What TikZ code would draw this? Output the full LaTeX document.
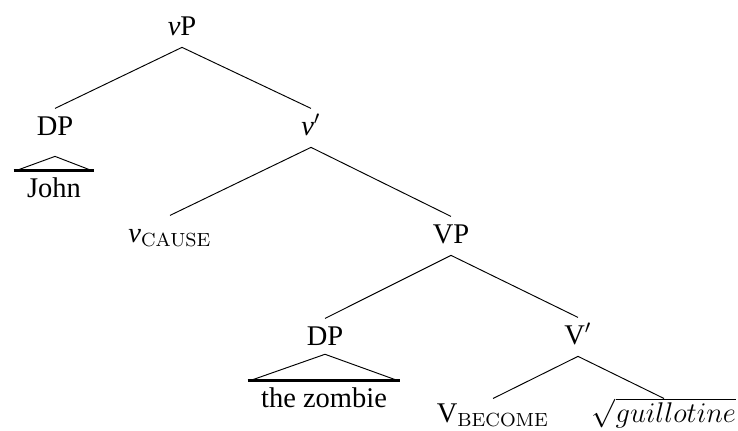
\documentclass[tikz,border=0pt]{standalone}
\usepackage[no-math]{fontspec}
\setmainfont{Liberation Serif}
\usepackage{amsmath}
\usetikzlibrary{positioning}
\tikzset{font={\fontsize{12pt}{14}\selectfont}}
\tikzset{lbl/.style={inner sep=0pt,anchor=base,text height=11pt,text depth=5pt}}
\tikzset{roof/.style={line width=1.1pt}}

\begin{document}
\begin{tikzpicture}[x=0.421pt,y=-0.421pt]
\useasboundingbox (0,0) rectangle (738,430);

%labels
\node[lbl] at (182,35) (vp) {\textit{v}P};
\node[lbl] at (55,135) (dpa) {DP};
\node[lbl] at (311,135) (vbar) {\textit{v}$'$};
\node[lbl] at (54,197) (john) {John};
\node[lbl] at (170,242) (vcause) {\textit{v}$_{\mathrm{CAUSE}}$};
\node[lbl] at (451,243) (vpb) {VP};
\node[lbl] at (325,345) (dpb) {DP};
\node[lbl] at (324,407) (zombie) {the zombie};
\node[lbl] at (578,344) (vbarb) {V$'$};
\node[lbl] at (493,422) (vbecome) {V$_{\mathrm{BECOME}}$};
\node[lbl] at (664,422) (root) {$\sqrt{guillotine}$};

%branches
\draw (vp.south) -- (dpa.north);
\draw (vp.south) -- (vbar.north);
\draw (vbar.south) -- (vcause.north);
\draw (vbar.south) -- (vpb.north);
\draw (vpb.south) -- (dpb.north);
\draw (vpb.south) -- (vbarb.north);
\draw (vbarb.south) -- ([yshift=-1.3pt]vbecome.north);
\draw (vbarb.south) -- ([yshift=-1.3pt]root.north);

%roofs
\draw ([xshift=-4.2pt]john.north west) -- ([yshift=-3.8pt]dpa.south) -- ([xshift=4.2pt]john.north east);
\draw[roof] ([xshift=-5.5pt]john.north west) -- ([xshift=5.5pt]john.north east);
\draw ([xshift=-4.2pt]zombie.north west) -- ([yshift=1.3pt]dpb.south) -- ([xshift=4.2pt]zombie.north east);
\draw[roof] ([xshift=-5.5pt]zombie.north west) -- ([xshift=5.5pt]zombie.north east);

\end{tikzpicture}
\end{document}
